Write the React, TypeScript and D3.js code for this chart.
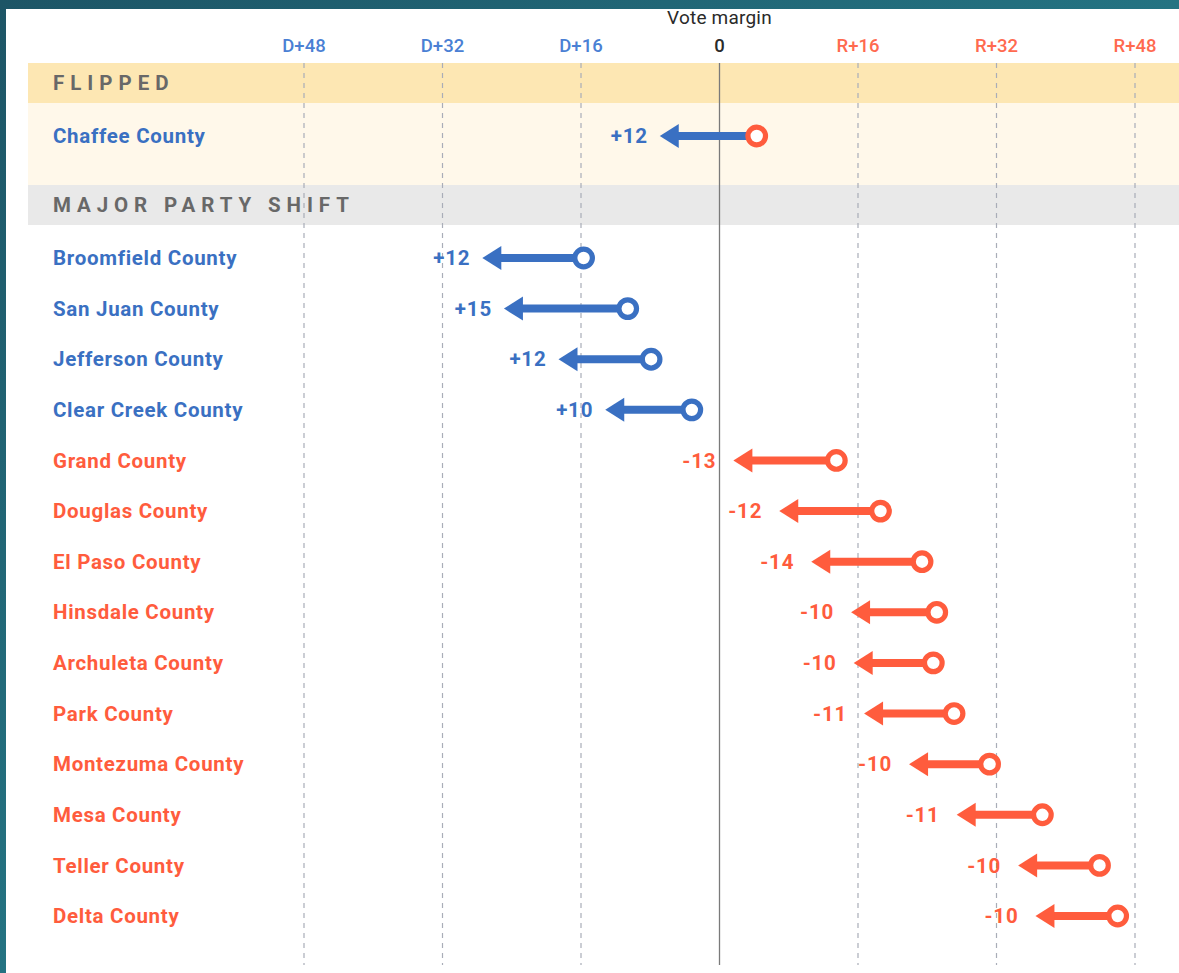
import React from "react";
import * as d3 from "d3";

const W = 1179;
const H = 973;

const tickValues = [-48, -32, -16, 0, 16, 32, 48];
const tickLabels = ["D+48", "D+32", "D+16", "0", "R+16", "R+32", "R+48"];

const flippedCounties = ["Chaffee County"];
const flippedFrom = [4.3];
const flippedTo = [-6.9];
const flippedShift = ["+12"];

const shiftCounties = [
  "Broomfield County",
  "San Juan County",
  "Jefferson County",
  "Clear Creek County",
  "Grand County",
  "Douglas County",
  "El Paso County",
  "Hinsdale County",
  "Archuleta County",
  "Park County",
  "Montezuma County",
  "Mesa County",
  "Teller County",
  "Delta County",
];
const shiftFrom = [-15.7, -10.6, -7.9, -3.2, 13.5, 18.6, 23.4, 25.1, 24.7, 27.1, 31.2, 37.3, 43.9, 46.0];
const shiftTo = [-27.4, -24.9, -18.6, -13.2, 1.6, 6.9, 10.6, 15.2, 15.5, 16.7, 21.9, 27.4, 34.5, 36.5];
const shiftLabels = ["+12", "+15", "+12", "+10", "-13", "-12", "-14", "-10", "-10", "-11", "-10", "-11", "-10", "-10"];

const BLUE = "#3a70c2";
const RED = "#ff5c3d";
const BLUE_TICK = "#4a80d4";
const RED_TICK = "#ff6a4f";
const FONT = "Roboto, 'Noto Sans', sans-serif";

const x = d3.scaleLinear().domain([-48, 48]).range([304, 1135]);
const yShift = d3.scalePoint<string>().domain(shiftCounties).range([258, 916]);
const yFlip = d3.scalePoint<string>().domain(flippedCounties).range([136, 136]);

type Row = { name: string; from: number; to: number; label: string; y: number };

const rows: Row[] = [
  ...flippedCounties.map((name, i) => ({
    name,
    from: flippedFrom[i],
    to: flippedTo[i],
    label: flippedShift[i],
    y: yFlip(name) as number,
  })),
  ...shiftCounties.map((name, i) => ({
    name,
    from: shiftFrom[i],
    to: shiftTo[i],
    label: shiftLabels[i],
    y: yShift(name) as number,
  })),
];

function ArrowRow({ r }: { r: Row }) {
  const toBlue = r.to < 0;
  const color = toBlue ? BLUE : RED;
  const circleColor = r.from > 0 ? RED : BLUE;
  const xt = x(r.to);
  const xf = x(r.from);
  const headLen = 19;
  const headHalf = 12;
  const gap = toBlue ? 12 : 17;
  return (
    <g>
      <text
        x={53}
        y={r.y}
        dy="0.35em"
        fill={color}
        fontFamily={FONT}
        fontWeight={700}
        fontSize={20.5}
        letterSpacing={0.7}
      >
        {r.name}
      </text>
      <line x1={xf} x2={xt + headLen - 1} y1={r.y} y2={r.y} stroke={color} strokeWidth={8} />
      <path
        d={`M${xt},${r.y} L${xt + headLen},${r.y - headHalf} L${xt + headLen},${r.y + headHalf} Z`}
        fill={color}
      />
      <circle cx={xf} cy={r.y} r={8.8} fill="#fff" stroke={circleColor} strokeWidth={5.2} />
      <text
        x={xt - gap}
        y={r.y}
        dy="0.35em"
        textAnchor="end"
        fill={color}
        fontFamily={FONT}
        fontWeight={700}
        fontSize={20.5}
        letterSpacing={0.8}
      >
        {r.label}
      </text>
    </g>
  );
}

export default function App() {
  const gridTop = 63;
  const gridBottom = 965;
  return (
    <svg
      width={W}
      height={H}
      style={{ position: "absolute", left: 0, top: 0, display: "block" }}
    >
      <defs>
        <linearGradient id="bg" x1="0" y1="0" x2="1" y2="1">
          <stop offset="0%" stopColor="#1d5566" />
          <stop offset="50%" stopColor="#247382" />
          <stop offset="100%" stopColor="#2b8591" />
        </linearGradient>
      </defs>
      <rect x={0} y={0} width={W} height={H} fill="url(#bg)" />
      <rect x={6} y={9} width={W - 6} height={H - 9} fill="#ffffff" />

      {/* section bands */}
      <rect x={28} y={63} width={W - 28} height={40} fill="#fde7b3" />
      <rect x={28} y={103} width={W - 28} height={82} fill="#fff8ea" />
      <rect x={28} y={185} width={W - 28} height={40} fill="#e9e9e9" />

      {/* grid */}
      {tickValues.map((v) =>
        v === 0 ? (
          <line key={v} x1={x(v)} x2={x(v)} y1={gridTop} y2={gridBottom} stroke="#7a7a7a" strokeWidth={1.3} />
        ) : (
          <line
            key={v}
            x1={x(v)}
            x2={x(v)}
            y1={gridTop}
            y2={gridBottom}
            stroke="#a9adb8"
            strokeWidth={1.2}
            strokeDasharray="5,5"
          />
        )
      )}

      {/* axis labels */}
      <text x={x(0)} y={17} dy="0.35em" textAnchor="middle" fill="#2a2a2a" fontFamily={FONT} fontSize={19} letterSpacing={0.2}>
        Vote margin
      </text>
      {tickValues.map((v, i) => (
        <text
          key={v}
          x={x(v)}
          y={46}
          dy="0.35em"
          textAnchor="middle"
          fill={v < 0 ? BLUE_TICK : v > 0 ? RED_TICK : "#2a2a2a"}
          fontFamily={FONT}
          fontSize={18.5}
          fontWeight={500}
        >
          {tickLabels[i]}
        </text>
      ))}

      {/* section headers */}
      <text x={53} y={83} dy="0.35em" fill="#686868" fontFamily={FONT} fontWeight={700} fontSize={20.5} letterSpacing={6}>
        FLIPPED
      </text>
      <text x={53} y={205} dy="0.35em" fill="#686868" fontFamily={FONT} fontWeight={700} fontSize={20.5} letterSpacing={5.9}>
        MAJOR PARTY SHIFT
      </text>

      {rows.map((r) => (
        <ArrowRow key={r.name} r={r} />
      ))}
    </svg>
  );
}
